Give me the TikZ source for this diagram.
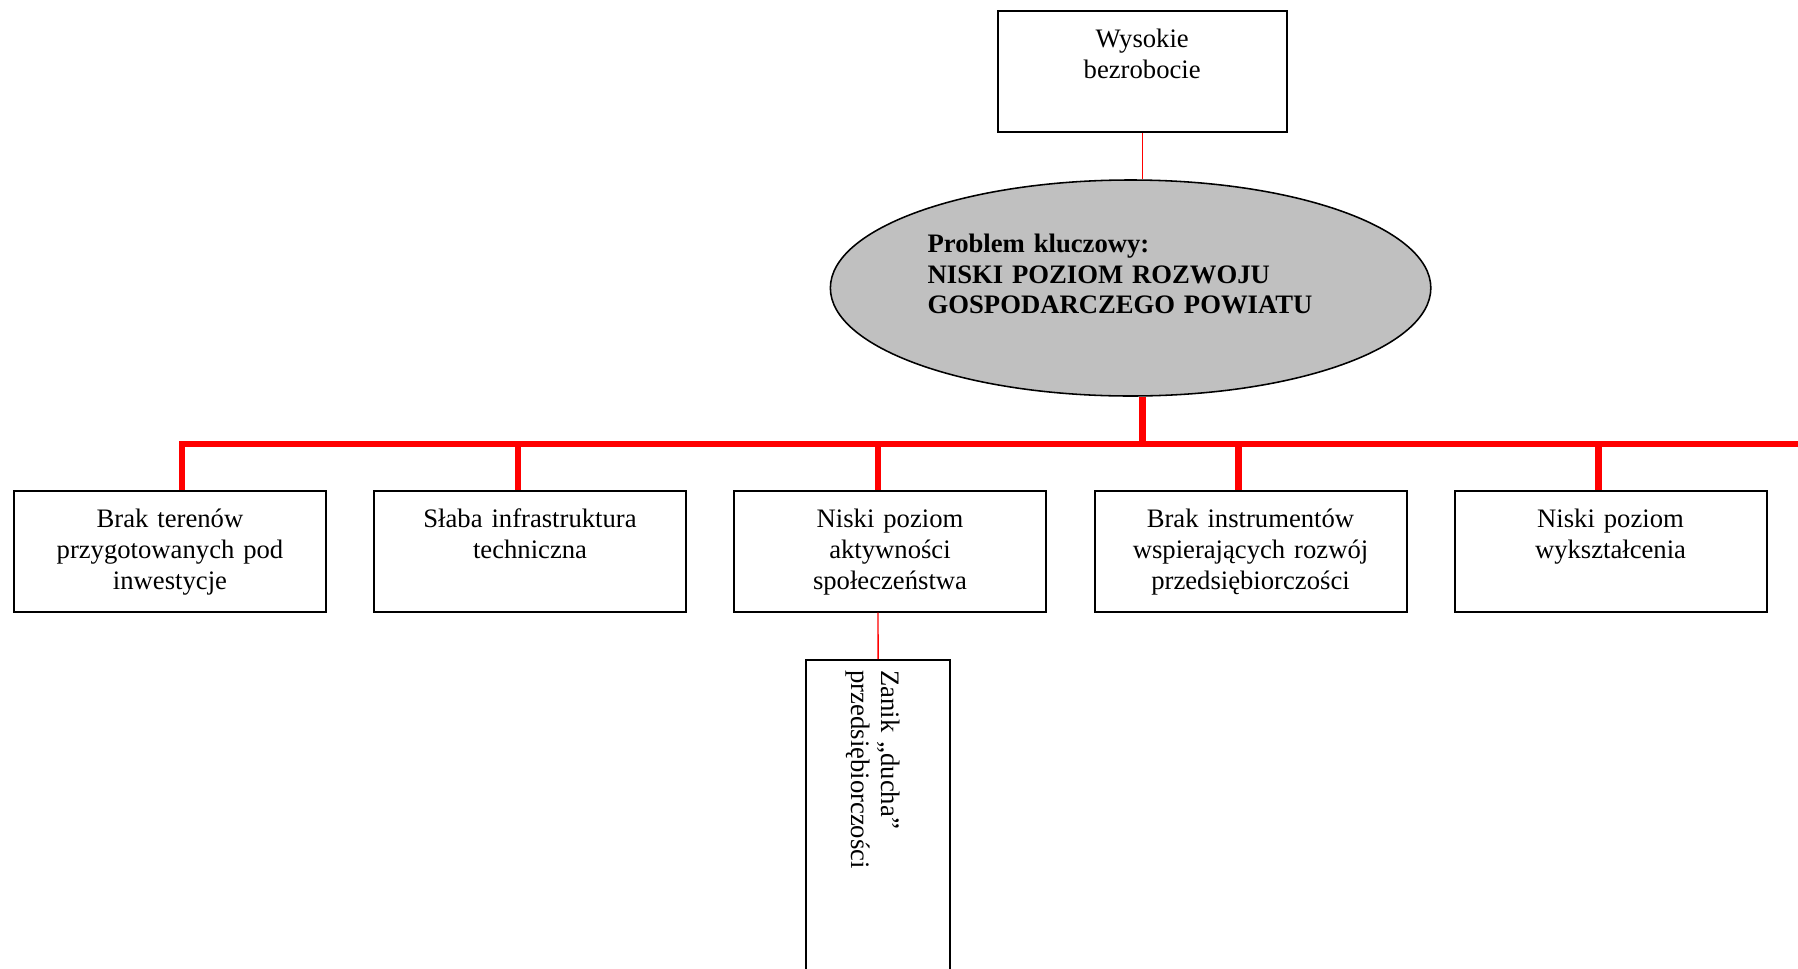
\documentclass[tikz,border=0pt]{standalone}
\usepackage{fontspec}
\setmainfont{Liberation Serif}
\usetikzlibrary{shapes.geometric}
\definecolor{keygray}{HTML}{C0C0C0}
\begin{document}
\begin{tikzpicture}[x=0.45pt, y=-0.45pt, box/.style={draw, line width=0.9pt, inner sep=0pt, minimum width=140.4pt, minimum height=54.3pt}, txt/.style={inner sep=0pt, text width=136pt, align=center, anchor=base, font=\fontsize{12}{13.8}\selectfont}, thin/.style={red, line width=0.6pt}, bus/.style={red, line width=3pt}]
\useasboundingbox (0,0) rectangle (1798,968);
\clip (0,0) rectangle (1798,968);
\node[box, minimum width=130pt, minimum height=54.6pt] (wys) at (1142.2,71.35) {};
\node[txt] (wyst) at ([yshift=-17.2pt]wys.north) {Wysokie\\bezrobocie};
\node[ellipse, draw, fill=keygray, line width=0.7pt, inner sep=0pt, minimum width=270.2pt, minimum height=97.2pt] (key) at (1130.6,288) {};
\node[txt, font=\fontsize{12}{13.8}\selectfont\bfseries, align=left, text width=200pt, anchor=base west] (keyt) at (927.2,252.5) {Problem kluczowy:\\NISKI POZIOM ROZWOJU\\GOSPODARCZEGO POWIATU};
\node[box] (c1) at (170,551.35) {};
\node[box] (c2) at (530,551.35) {};
\node[box] (c3) at (890,551.35) {};
\node[box] (c4) at (1250.5,551.35) {};
\node[box] (c5) at (1610.5,551.35) {};
\node[txt] (c1t) at ([yshift=-17pt]c1.north) {Brak terenów\\przygotowanych pod\\inwestycje};
\node[txt] (c2t) at ([yshift=-17pt]c2.north) {Słaba infrastruktura\\techniczna};
\node[txt] (c3t) at ([yshift=-17pt]c3.north) {Niski poziom\\aktywności\\społeczeństwa};
\node[txt] (c4t) at ([yshift=-17pt]c4.north) {Brak instrumentów\\wspierających rozwój\\przedsiębiorczości};
\node[txt] (c5t) at ([yshift=-17pt]c5.north) {Niski poziom\\wykształcenia};
\node[box, minimum width=64.9pt, minimum height=153pt] (zan) at (878.15,830) {};
\node[txt, rotate=-90, align=left, text width=110pt, anchor=base west] (zant) at (881.7,670) {Zanik „ducha”\\przedsiębiorczości};
\coordinate (busR) at (1810,444);
\draw[thin] (wys.south) -- (wys.south |- key.north);
\draw[bus] (wys.south |- key.south) -- (wys.south |- busR);
\draw[bus] ([xshift=5.4pt]c1.north) |- (busR);
\draw[bus] ([xshift=-5.4pt]c2.north) -- ([xshift=-5.4pt]c2.north |- busR);
\draw[bus] ([xshift=-5.4pt]c3.north) -- ([xshift=-5.4pt]c3.north |- busR);
\draw[bus] ([xshift=-5.4pt]c4.north) -- ([xshift=-5.4pt]c4.north |- busR);
\draw[bus] ([xshift=-5.4pt]c5.north) -- ([xshift=-5.4pt]c5.north |- busR);
\draw[thin] ([xshift=-5.4pt]c3.south) -- (zan.north);
\end{tikzpicture}
\end{document}
